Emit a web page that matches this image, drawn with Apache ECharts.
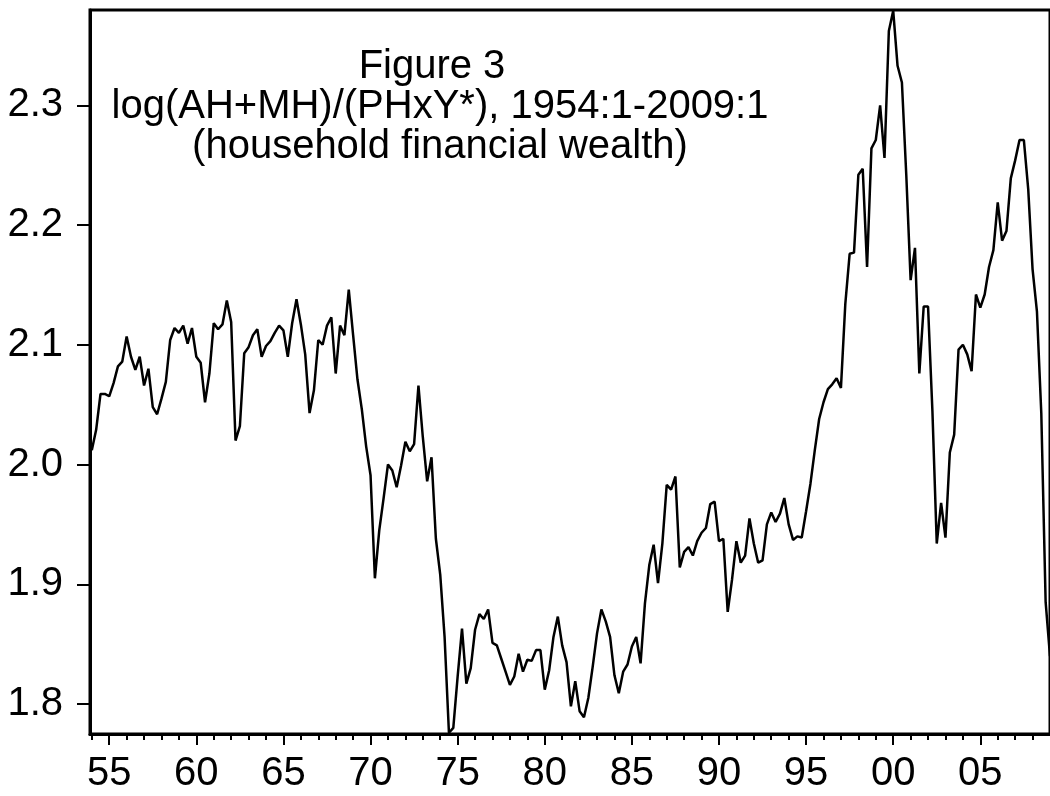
<!DOCTYPE html>
<html>
<head>
<meta charset="utf-8">
<title>Figure 3</title>
<script src="https://cdn.jsdelivr.net/npm/echarts@6/dist/echarts.min.js"></script>
<style>
html, body { margin: 0; padding: 0; background: #fff; }
#main { width: 1050px; height: 796px; }
</style>
</head>
<body>
<div id="main"></div>
<script>
// quarterly data, 1954:1 - 2009:1
var startYear = 1954;
var values = [
    2.012, 2.029, 2.059, 2.059, 2.057, 2.068, 2.082, 2.086,   // 54-55
    2.107, 2.090, 2.079, 2.090, 2.066, 2.080, 2.048, 2.042,   // 56-57
    2.055, 2.069, 2.104, 2.114, 2.110, 2.116, 2.101, 2.114,   // 58-59
    2.090, 2.085, 2.052, 2.076, 2.118, 2.113, 2.117, 2.137,   // 60-61
    2.119, 2.020, 2.032, 2.093, 2.098, 2.108, 2.113, 2.090,   // 62-63
    2.099, 2.103, 2.110, 2.116, 2.112, 2.090, 2.118, 2.138,   // 64-65
    2.117, 2.092, 2.043, 2.062, 2.104, 2.100, 2.116, 2.123,   // 66-67
    2.076, 2.116, 2.108, 2.146, 2.108, 2.071, 2.046, 2.015,   // 68-69
    1.991, 1.905, 1.945, 1.972, 2.000, 1.995, 1.981, 1.999,   // 70-71
    2.019, 2.011, 2.017, 2.066, 2.023, 1.986, 2.006, 1.938,   // 72-73
    1.908, 1.856, 1.776, 1.780, 1.823, 1.863, 1.817, 1.830,   // 74-75
    1.862, 1.875, 1.871, 1.879, 1.851, 1.849, 1.838, 1.827,   // 76-77
    1.816, 1.823, 1.842, 1.827, 1.837, 1.836, 1.845, 1.845,   // 78-79
    1.812, 1.828, 1.856, 1.873, 1.849, 1.835, 1.798, 1.819,   // 80-81
    1.794, 1.789, 1.805, 1.831, 1.859, 1.879, 1.869, 1.856,   // 82-83
    1.824, 1.809, 1.827, 1.833, 1.848, 1.856, 1.834, 1.884,   // 84-85
    1.916, 1.933, 1.901, 1.934, 1.983, 1.979, 1.990, 1.914,   // 86-87
    1.927, 1.931, 1.924, 1.936, 1.943, 1.947, 1.967, 1.969,   // 88-89
    1.936, 1.938, 1.877, 1.904, 1.936, 1.918, 1.924, 1.955,   // 90-91
    1.934, 1.918, 1.920, 1.950, 1.960, 1.952, 1.959, 1.972,   // 92-93
    1.950, 1.937, 1.940, 1.939, 1.961, 1.984, 2.012, 2.038,   // 94-95
    2.052, 2.063, 2.067, 2.072, 2.064, 2.134, 2.176, 2.177,   // 96-97
    2.242, 2.247, 2.165, 2.264, 2.271, 2.300, 2.256, 2.362,   // 98-99
    2.379, 2.333, 2.319, 2.242, 2.154, 2.181, 2.076, 2.132,   // 00-01
    2.132, 2.045, 1.934, 1.968, 1.939, 2.010, 2.025, 2.096,   // 02-03
    2.100, 2.092, 2.078, 2.142, 2.131, 2.142, 2.165, 2.179,   // 04-05
    2.219, 2.187, 2.195, 2.239, 2.254, 2.271, 2.271, 2.230,   // 06-07
    2.163, 2.128, 2.043, 1.885, 1.840                         // 08-09:1
];

var majorYears = [1955, 1960, 1965, 1970, 1975, 1980, 1985, 1990, 1995, 2000, 2005];
var minorYears = [];
for (var y = 1954; y <= 2008; y++) minorYears.push(y);
var yTicks = [1.8, 1.9, 2.0, 2.1, 2.2, 2.3];
var titleLines = ['Figure 3', 'log(AH+MH)/(PHxY*), 1954:1-2009:1', '(household financial wealth)'];

var fontFam = '"Liberation Sans", Arial, sans-serif';
var fontSize = 40;

var seriesData = values.map(function (v, i) {
    return [startYear + i / 4, v];
});

// title lines, one text element each
var titleX = [432, 440, 440];
var titleEls = titleLines.map(function (t, i) {
    return {
        type: 'text',
        x: titleX[i],
        y: 67 + i * 40,
        style: {
            text: t,
            fill: '#000',
            font: fontSize + 'px ' + fontFam,
            fontSize: fontSize,
            fontFamily: fontFam,
            align: 'center',
            textAlign: 'center',
            verticalAlign: 'middle',
            textVerticalAlign: 'middle'
        }
    };
});

var myChart = echarts.init(document.getElementById('main'), null, { renderer: 'canvas' });

var option = {
    animation: false,
    backgroundColor: '#fff',
    grid: {
        left: 90,
        top: 10,
        width: 964.7,
        height: 724,
        show: true,
        borderColor: '#000',
        borderWidth: 3,
        backgroundColor: 'transparent'
    },
    graphic: titleEls,
    xAxis: [{
        type: 'value',
        min: 1953.897,
        max: 2009,
        axisLine: { lineStyle: { color: '#000', width: 3 } },
        axisTick: { customValues: majorYears, length: 11, lineStyle: { color: '#000', width: 2 } },
        axisLabel: {
            customValues: majorYears,
            formatter: function (v) { return ('0' + (Math.round(v) % 100)).slice(-2); },
            color: '#000',
            fontSize: fontSize,
            fontFamily: fontFam,
            margin: 20
        },
        splitLine: { show: false }
    }, {
        type: 'value',
        min: 1953.897,
        max: 2009,
        position: 'bottom',
        axisLine: { show: false },
        axisTick: { customValues: minorYears, length: 6, lineStyle: { color: '#000', width: 2 } },
        axisLabel: { show: false },
        splitLine: { show: false }
    }],
    yAxis: {
        type: 'value',
        min: 1.77495,
        max: 2.37959,
        axisLine: { show: true, lineStyle: { color: '#000', width: 3 } },
        axisTick: { show: true, customValues: yTicks, length: 13, lineStyle: { color: '#000', width: 2 } },
        axisLabel: {
            customValues: yTicks,
            formatter: function (v) { return v.toFixed(1); },
            color: '#000',
            fontSize: fontSize,
            fontFamily: fontFam,
            margin: 27,
            padding: [0, 0, 10, 0]
        },
        splitLine: { show: false }
    },
    series: [{
        type: 'line',
        data: seriesData,
        symbol: 'none',
        lineStyle: { color: '#000', width: 2.5 },
        clip: true
    }]
};

myChart.setOption(option);
</script>
</body>
</html>
